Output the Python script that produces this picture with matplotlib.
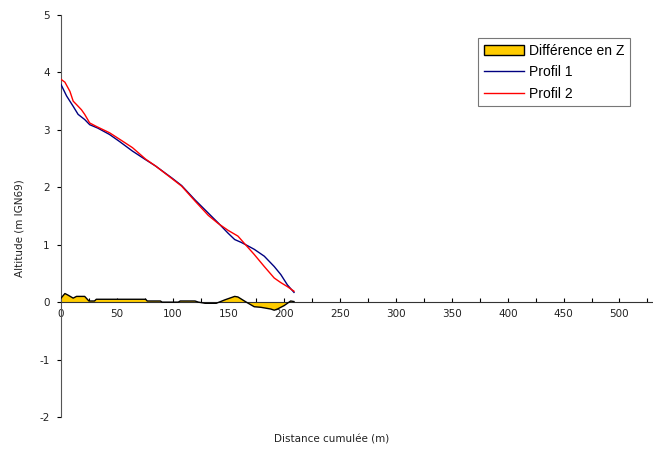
import matplotlib.pyplot as plt
from matplotlib.ticker import MultipleLocator
from matplotlib.patches import Patch
from matplotlib.lines import Line2D

# profil 1 (blue)
x1 = [0, 5, 10.9, 15.3, 21.2, 25.7, 33, 43.4, 52.2, 64, 75.8, 84.7, 99.4, 108,
      120, 131.9, 140.7, 149.6, 155.5, 161.4, 167.3, 173, 182, 190.9, 196.8,
      202.7, 208.6]
z1 = [3.79, 3.59, 3.41, 3.27, 3.18, 3.09, 3.03, 2.92, 2.80, 2.63, 2.48, 2.37,
      2.16, 2.03, 1.78, 1.55, 1.38, 1.20, 1.09, 1.04, 0.98, 0.92, 0.80, 0.62,
      0.48, 0.30, 0.17]

# profil 2 (red)
x2 = [0, 3.5, 8, 10.9, 13.9, 18.3, 21.2, 25.7, 31.6, 43.4, 52.2, 64, 75.8,
      84.7, 99.4, 108, 120, 131.9, 140.7, 149.6, 158.4, 164.3, 173, 182, 190.9,
      196.8, 202.7, 208.6]
z2 = [3.88, 3.83, 3.67, 3.50, 3.44, 3.35, 3.27, 3.12, 3.06, 2.95, 2.84, 2.69,
      2.49, 2.37, 2.15, 2.02, 1.76, 1.51, 1.37, 1.25, 1.15, 1.02, 0.83, 0.62,
      0.42, 0.34, 0.27, 0.19]

# difference en Z
xd = [0, 3.5, 6.5, 10.9, 13.9, 21.2, 25, 30, 31.6, 75.8, 77.2, 89, 90.5, 105,
      106.7, 120, 123, 129, 139, 146.7, 155.5, 158.4, 165.9, 173, 179, 187.8,
      190.9, 193.8, 199.8, 202.7, 205.6, 208.6]
dz = [0.07, 0.15, 0.12, 0.07, 0.10, 0.10, 0.02, 0.02, 0.05, 0.05, 0.02, 0.02,
      0, 0, 0.02, 0.02, 0, -0.02, -0.02, 0.04, 0.10, 0.09, 0, -0.08, -0.09,
      -0.12, -0.14, -0.12, -0.06, -0.02, 0.02, 0.01]

plt.rcParams["font.family"] = "DejaVu Sans"
plt.rcParams["font.size"] = 7.5
plt.rcParams["axes.unicode_minus"] = False

fig = plt.figure(figsize=(6.53, 4.57), dpi=100)
ax = fig.add_axes([61 / 653, 1 - 417 / 457, 1 - 61 / 653, (417 - 15) / 457])

ax.fill_between(xd, dz, 0, facecolor="#FFCC00", edgecolor="none", zorder=2)
ax.plot(xd, dz, color="black", lw=1.0, zorder=3)
ax.plot(x1, z1, color="#000080", lw=1.0, zorder=4)
ax.plot(x2, z2, color="#FF0000", lw=1.0, zorder=4)

ax.set_xlim(0, 530)
ax.set_ylim(-2, 5)

ax.spines["top"].set_visible(False)
ax.spines["right"].set_visible(False)
ax.spines["bottom"].set_position(("data", 0))
ax.spines["bottom"].set_color("#333333")
ax.spines["left"].set_color("#555555")

ax.xaxis.set_major_locator(MultipleLocator(50))
ax.xaxis.set_minor_locator(MultipleLocator(25))
ax.yaxis.set_major_locator(MultipleLocator(1))
ax.tick_params(axis="x", which="both", direction="in", length=3, width=0.8,
               pad=5, labelsize=7.5, labelcolor="#222222")
ax.tick_params(axis="y", direction="out", length=3, width=0.8, pad=5,
               labelsize=7.5, labelcolor="#222222")

fig.text(332 / 653, 1 - 440 / 457, "Distance cumulée (m)", ha="center",
         va="center", fontsize=7.5, color="#222222")
fig.text(20 / 653, 1 - 228 / 457, "Altitude (m IGN69)", ha="center",
         va="center", rotation=90, fontsize=7.5, color="#222222")

handles = [
    Patch(facecolor="#FFCC00", edgecolor="black", lw=1.0),
    Line2D([], [], color="#000080", lw=1.0),
    Line2D([], [], color="#FF0000", lw=1.0),
]
labels = ["Différence en Z", "Profil 1", "Profil 2"]
leg = fig.legend(handles, labels, loc="upper left",
                 bbox_to_anchor=(478 / 653, 1 - 38 / 457),
                 prop={"family": "Liberation Sans", "size": 10},
                 frameon=True, fancybox=False, borderpad=0.4,
                 handlelength=2.9, handletextpad=0.4, labelspacing=0.55,
                 borderaxespad=0)
leg.get_frame().set_edgecolor("#555555")
leg.get_frame().set_linewidth(0.8)

fig.savefig("out.png", dpi=100)
